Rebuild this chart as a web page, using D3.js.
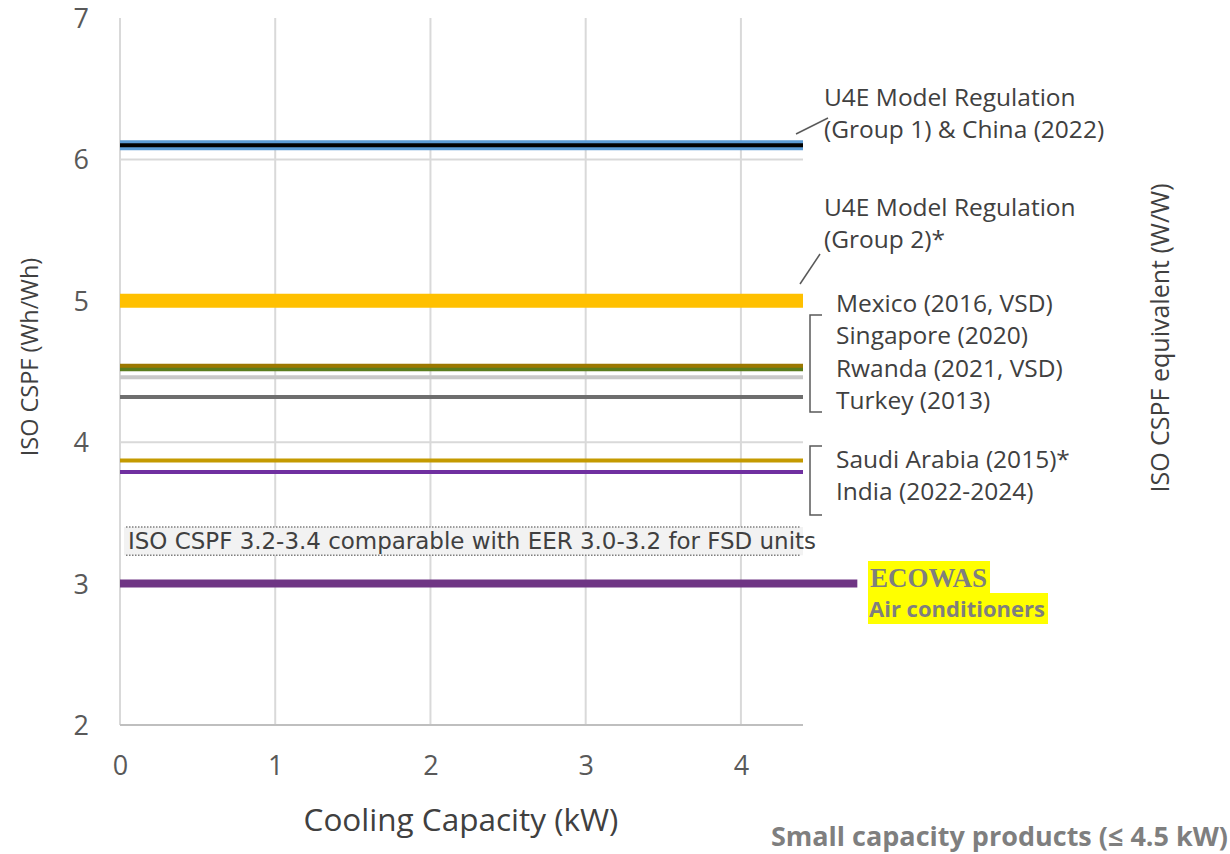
<!DOCTYPE html>
<html lang="en">
<head>
    <meta charset="UTF-8">
    <title>ISO CSPF - small capacity products</title>
    <style>
        body { margin: 0; background: #fff; }
        svg { display: block; }
        text { font-family: "Open Sans", "Noto Sans", sans-serif; fill: #404040; }
        .tick text { fill: #595959; }
        .grid line { stroke: #d9d9d9; stroke-width: 2px; }
    </style>
</head>
<body>
    <svg width="1230" height="854"></svg>
    <script src="https://d3js.org/d3.v7.min.js"></script>
    <script>
        // values
        const xTicks = [0, 1, 2, 3, 4];
        const yTicks = [2, 3, 4, 5, 6, 7];
        const xDomain = [0, 4.4];
        const yDomain = [2, 7];

        const standards = ["U4E Group 1", "China 2022", "U4E Group 2", "Rwanda", "Mexico",
            "Singapore", "Turkey", "Saudi Arabia", "India"];
        const standardValues = [6.10, 6.10, 5.0, 4.52, 4.54, 4.46, 4.32, 3.87, 3.79];

        const ecowasValue = 3.0;
        const ecowasCapacity = 4.75;
        const bandRange = [3.2, 3.4];

        const group1Labels = ["U4E Model Regulation", "(Group 1) & China (2022)"];
        const group2Labels = ["U4E Model Regulation", "(Group 2)*"];
        const midLabels = ["Mexico (2016, VSD)", "Singapore (2020)", "Rwanda (2021, VSD)", "Turkey (2013)"];
        const lowLabels = ["Saudi Arabia (2015)*", "India (2022-2024)"];

        // line styles, keyed by standard
        const style = {
            "U4E Group 1": { color: "#5b9bd5", width: 10 },
            "China 2022": { color: "#000000", width: 4 },
            "U4E Group 2": { color: "#ffc000", width: 14 },
            "Rwanda": { color: "#5a7d1e", width: 5 },
            "Mexico": { color: "#9c7800", width: 4 },
            "Singapore": { color: "#c8c8c8", width: 4 },
            "Turkey": { color: "#6e6e6e", width: 4 },
            "Saudi Arabia": { color: "#c49a00", width: 4 },
            "India": { color: "#7030a0", width: 4 }
        };

        const svg = d3.select("svg");
        const x = d3.scaleLinear().domain(xDomain).range([120, 803]);
        const y = d3.scaleLinear().domain(yDomain).range([725, 18]);

        // gridlines
        const grid = svg.append("g").attr("class", "grid");
        grid.selectAll(".v").data(xTicks).enter().append("line")
            .attr("x1", d => x(d)).attr("x2", d => x(d))
            .attr("y1", y(7)).attr("y2", y(2));
        grid.selectAll(".h").data(yTicks.filter(d => d > 2 && d < 7)).enter().append("line")
            .attr("x1", x(0)).attr("x2", x(4.4))
            .attr("y1", d => y(d)).attr("y2", d => y(d));
        svg.append("line")
            .attr("x1", x(0)).attr("x2", x(4.4))
            .attr("y1", y(2)).attr("y2", y(2))
            .attr("stroke", "#bfbfbf").attr("stroke-width", 2);

        // axes (labels only)
        const yAxis = svg.append("g").attr("transform", "translate(89,0)")
            .call(d3.axisLeft(y).tickValues(yTicks).tickSize(0).tickFormat(d3.format("d")));
        yAxis.select(".domain").remove();
        yAxis.selectAll("text").attr("font-size", 27).attr("dy", "0.35em").attr("x", 0);

        const xAxis = svg.append("g").attr("transform", "translate(0,756)")
            .call(d3.axisBottom(x).tickValues(xTicks).tickSize(0).tickFormat(d3.format("d")));
        xAxis.select(".domain").remove();
        xAxis.selectAll("text").attr("font-size", 27).attr("dy", "0.71em").attr("y", 0);

        // comparability band
        const band = svg.append("g");
        band.append("rect")
            .attr("x", x(0) + 4).attr("width", x(4.4) - x(0) - 4)
            .attr("y", y(bandRange[1])).attr("height", y(bandRange[0]) - y(bandRange[1]))
            .attr("fill", "#f2f2f2");
        band.selectAll("line").data(bandRange).enter().append("line")
            .attr("x1", x(0) + 6).attr("x2", x(4.4) - 2)
            .attr("y1", d => y(d)).attr("y2", d => y(d))
            .attr("stroke", "#7f7f7f").attr("stroke-width", 1.5)
            .attr("stroke-dasharray", "1.5,1.5");
        band.append("text")
            .attr("x", 128).attr("y", (y(bandRange[0]) + y(bandRange[1])) / 2)
            .attr("dy", "0.35em")
            .attr("font-size", 23)
            .attr("textLength", 688).attr("lengthAdjust", "spacingAndGlyphs")
            .style("font-family", "'Liberation Sans Narrow', 'DejaVu Sans Condensed', sans-serif")
            .text("ISO CSPF 3.2-3.4 comparable with EER 3.0-3.2 for FSD units");

        // standard lines
        svg.append("g").selectAll("line")
            .data(standards.map((name, i) => ({ name, value: standardValues[i] })))
            .enter().append("line")
            .attr("x1", x(0)).attr("x2", x(4.4))
            .attr("y1", d => y(d.value)).attr("y2", d => y(d.value))
            .attr("stroke", d => style[d.name].color)
            .attr("stroke-width", d => style[d.name].width);

        svg.append("line")
            .attr("x1", x(0)).attr("x2", x(ecowasCapacity))
            .attr("y1", y(ecowasValue)).attr("y2", y(ecowasValue))
            .attr("stroke", "#6f3584").attr("stroke-width", 8);

        // annotations
        const fs = 24.5;
        function lines(arr, x0, y0, step) {
            svg.append("g").selectAll("text").data(arr).enter().append("text")
                .attr("x", x0).attr("y", (d, i) => y0 + i * step)
                .attr("dy", "0.35em").attr("font-size", fs)
                .text(d => d);
        }
        lines(group1Labels, 824, 97, 32);
        lines(group2Labels, 824, 207, 32);
        lines(midLabels, 836, 303, 32.5);
        lines(lowLabels, 836, 459, 32);

        const leader = d3.line();
        svg.append("path").attr("d", leader([[796, 134], [828, 118]]))
            .attr("fill", "none").attr("stroke", "#595959").attr("stroke-width", 1.5);
        svg.append("path").attr("d", leader([[800, 284], [820, 254]]))
            .attr("fill", "none").attr("stroke", "#595959").attr("stroke-width", 1.5);

        function bracket(top, bottom) {
            svg.append("path")
                .attr("d", leader([[822, top], [810, top], [810, bottom], [822, bottom]]))
                .attr("fill", "none").attr("stroke", "#595959").attr("stroke-width", 1.5);
        }
        bracket(315, 412);
        bracket(446, 515);

        // ECOWAS highlight
        svg.append("rect").attr("x", 868).attr("y", 561).attr("width", 122).attr("height", 32).attr("fill", "#ffff00");
        svg.append("rect").attr("x", 868).attr("y", 593).attr("width", 180).attr("height", 31).attr("fill", "#ffff00");
        svg.append("text").attr("x", 870).attr("y", 578).attr("dy", "0.35em")
            .attr("font-size", 27).attr("font-weight", "bold")
            .style("font-family", "'Liberation Serif', serif").style("fill", "#7f7f7f")
            .text("ECOWAS");
        svg.append("text").attr("x", 869).attr("y", 609).attr("dy", "0.35em")
            .attr("font-size", 22).attr("font-weight", "bold").style("fill", "#7f7f7f")
            .text("Air conditioners");

        // axis titles
        svg.append("text")
            .attr("transform", "translate(30,357) rotate(-90)")
            .attr("text-anchor", "middle").attr("dy", "0.35em").attr("font-size", 23.5)
            .text("ISO CSPF (Wh/Wh)");
        svg.append("text")
            .attr("transform", "translate(1160,338) rotate(-90)")
            .attr("text-anchor", "middle").attr("dy", "0.35em").attr("font-size", 25)
            .text("ISO CSPF equivalent (W/W)");
        svg.append("text")
            .attr("x", 461).attr("y", 820).attr("text-anchor", "middle")
            .attr("dy", "0.35em").attr("font-size", 31.5)
            .text("Cooling Capacity (kW)");
        svg.append("text")
            .attr("x", 1228).attr("y", 837).attr("text-anchor", "end")
            .attr("dy", "0.35em").attr("font-size", 27).attr("font-weight", "bold")
            .style("fill", "#7f7f7f")
            .text("Small capacity products (\u2264 4.5 kW)");
    </script>
</body>
</html>
